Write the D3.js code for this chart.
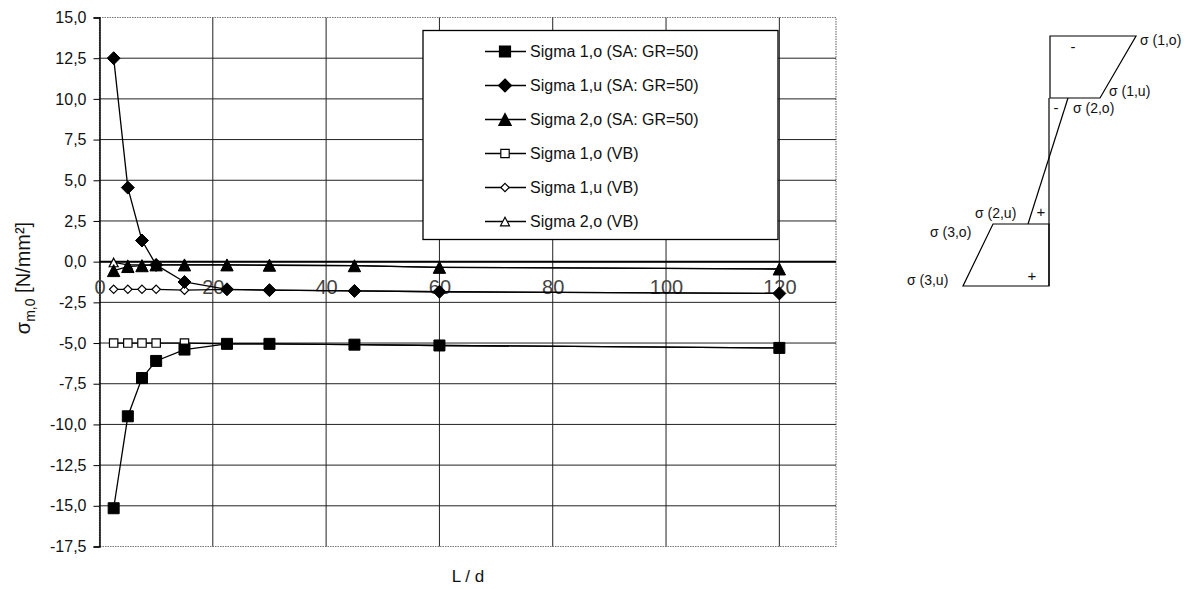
<!DOCTYPE html>
<html><head><meta charset="utf-8">
<script src="https://cdn.jsdelivr.net/npm/d3@7"></script>
<style>body{margin:0;background:#fff}svg{display:block}text{font-family:"Liberation Sans",Arial,sans-serif}</style>
</head><body><svg id="c" width="1192" height="589"></svg>
<script>
const xVals = [2.5, 5, 7.5, 10, 15, 22.5, 30, 45, 60, 120];
const sigma1oSA = [-15.15, -9.5, -7.15, -6.1, -5.4, -5.05, -5.05, -5.1, -5.15, -5.3];
const sigma1uSA = [12.5, 4.55, 1.3, -0.2, -1.25, -1.7, -1.75, -1.8, -1.85, -1.95];
const sigma2oSA = [-0.55, -0.3, -0.25, -0.2, -0.2, -0.2, -0.22, -0.25, -0.35, -0.45];
const sigma1oVB = [-5.0, -5.0, -5.0, -5.0, -5.0, -5.05, -5.05, -5.1, -5.15, -5.3];
const sigma1uVB = [-1.7, -1.7, -1.7, -1.7, -1.75, -1.7, -1.75, -1.8, -1.85, -1.95];
const sigma2oVB = [-0.05, -0.2, -0.2, -0.2, -0.2, -0.2, -0.22, -0.25, -0.35, -0.45];
const seriesNames = ["Sigma 1,o (SA: GR=50)", "Sigma 1,u (SA: GR=50)", "Sigma 2,o (SA: GR=50)",
                     "Sigma 1,o (VB)", "Sigma 1,u (VB)", "Sigma 2,o (VB)"];
const yTicks = [15, 12.5, 10, 7.5, 5, 2.5, 0, -2.5, -5, -7.5, -10, -12.5, -15, -17.5];
const xTicks = [0, 20, 40, 60, 80, 100, 120];

const series = [
  {name: seriesNames[0], vals: sigma1oSA, shape: "square", filled: true},
  {name: seriesNames[1], vals: sigma1uSA, shape: "diamond", filled: true},
  {name: seriesNames[2], vals: sigma2oSA, shape: "triangle", filled: true},
  {name: seriesNames[3], vals: sigma1oVB, shape: "square", filled: false},
  {name: seriesNames[4], vals: sigma1uVB, shape: "diamond", filled: false},
  {name: seriesNames[5], vals: sigma2oVB, shape: "triangle", filled: false}
];

const svg = d3.select("#c");
const L = 99.5, R = 836, T = 17.5, B = 546.5;
const x = d3.scaleLinear().domain([0, 130]).range([L, R]);
const y = d3.scaleLinear().domain([-17.5, 15]).range([B, T]);

function markerPath(shape, filled) {
  if (shape === "square") { const h = filled ? 5.5 : 4.2; return `M${-h},${-h}H${h}V${h}H${-h}Z`; }
  if (shape === "diamond") { const h = filled ? 6.5 : 4.2; return `M0,${-h}L${h},0L0,${h}L${-h},0Z`; }
  const w = filled ? 6.2 : 4.5, hh = filled ? 6 : 4.3;
  return `M0,${-hh}L${w},${hh}L${-w},${hh}Z`;
}

// plot border (dotted)
svg.append("rect").attr("x", L).attr("y", T).attr("width", R - L).attr("height", B - T)
  .attr("fill", "none").attr("stroke", "#777").attr("stroke-width", 1.2).attr("stroke-dasharray", "1.5,1");

// gridlines
svg.append("g").selectAll("line").data(yTicks.filter(v => v !== 15 && v !== -17.5)).join("line")
  .attr("x1", L).attr("x2", R).attr("y1", d => y(d)).attr("y2", d => y(d))
  .attr("stroke", "#222").attr("stroke-width", 1);
svg.append("g").selectAll("line").data(xTicks.filter(v => v !== 0)).join("line")
  .attr("x1", d => x(d)).attr("x2", d => x(d)).attr("y1", T).attr("y2", B)
  .attr("stroke", "#222").attr("stroke-width", 1);

// y axis
const yAxis = d3.axisLeft(y).tickValues(yTicks).tickSize(6).tickPadding(7)
  .tickFormat(d => d3.format(".1f")(d).replace(".", ",").replace("\u2212", "-"));
const gy = svg.append("g").attr("transform", `translate(${L},0)`).call(yAxis);
gy.select(".domain").attr("stroke", "#000").attr("stroke-width", 1.5);
gy.selectAll(".tick line").attr("stroke", "#000");
gy.selectAll("text").attr("font-size", 16).attr("fill", "#111");

// x axis at zero
const xAxis = d3.axisBottom(x).tickValues(xTicks).tickSize(0).tickPadding(18).tickFormat(d3.format("d"));
const gx = svg.append("g").attr("transform", `translate(0,${y(0)})`).call(xAxis);
gx.select(".domain").attr("d", `M${L},0H${R}`).attr("stroke", "#000").attr("stroke-width", 2);
gx.selectAll("text").attr("font-size", 20).attr("fill", "#444").attr("font-weight", 300);

// series (VB first so SA markers sit on top)
const line = d3.line().x((d, i) => x(xVals[i])).y(d => y(d));
const order = [3, 4, 5, 0, 1, 2];
order.forEach(k => {
  const s = series[k];
  svg.append("path").datum(s.vals).attr("d", line).attr("fill", "none")
    .attr("stroke", "#000").attr("stroke-width", 1.3);
});
order.forEach(k => {
  const s = series[k];
  svg.append("g").selectAll("path").data(s.vals).join("path")
    .attr("transform", (d, i) => `translate(${x(xVals[i])},${y(d)})`)
    .attr("d", markerPath(s.shape, s.filled))
    .attr("fill", s.filled ? "#000" : "#fff").attr("stroke", "#000").attr("stroke-width", s.filled ? 1 : 1.2);
});

// legend
const lg = svg.append("g");
lg.append("rect").attr("x", 423).attr("y", 30.5).attr("width", 355).attr("height", 209)
  .attr("fill", "#fff").attr("stroke", "#000").attr("stroke-width", 1.3);
series.forEach((s, i) => {
  const cy = 51.5 + i * 34;
  lg.append("line").attr("x1", 485).attr("x2", 526).attr("y1", cy).attr("y2", cy).attr("stroke", "#000").attr("stroke-width", 1.3);
  lg.append("path").attr("transform", `translate(505,${cy})`).attr("d", markerPath(s.shape, s.filled))
    .attr("fill", s.filled ? "#000" : "#fff").attr("stroke", "#000").attr("stroke-width", 1.2);
  lg.append("text").attr("x", 530).attr("y", cy).attr("dy", "0.36em").attr("font-size", 16).attr("fill", "#111").text(s.name);
});

// axis titles
svg.append("text").attr("x", 468).attr("y", 582).attr("text-anchor", "middle").attr("font-size", 17).attr("fill", "#111").text("L / d");
const yt = svg.append("text").attr("transform", "translate(30,278) rotate(-90)").attr("text-anchor", "middle")
  .attr("font-size", 20).attr("fill", "#111");
yt.append("tspan").text("σ");
yt.append("tspan").attr("font-size", 14).attr("dy", 5).text("m,0");
yt.append("tspan").attr("dy", -5).text(" [N/mm²]");

// cross-section diagram
const dg = svg.append("g").attr("fill", "none").attr("stroke", "#000").attr("stroke-width", 1.2);
dg.append("path").attr("d", "M1050,36H1136L1100,98H1050Z");
dg.append("path").attr("d", "M1049,98V286");
dg.append("path").attr("d", "M1068,98L1028,224");
dg.append("path").attr("d", "M993,224H1049V286H963Z");
const lab = svg.append("g").attr("font-size", 14).attr("fill", "#111");
lab.append("text").attr("x", 1140).attr("y", 45).text("σ (1,o)");
lab.append("text").attr("x", 1109).attr("y", 96).text("σ (1,u)");
lab.append("text").attr("x", 1073).attr("y", 113).text("σ (2,o)");
lab.append("text").attr("x", 975).attr("y", 218).text("σ (2,u)");
lab.append("text").attr("x", 930).attr("y", 237).text("σ (3,o)");
lab.append("text").attr("x", 907).attr("y", 285).text("σ (3,u)");
const sg = svg.append("g").attr("font-size", 15).attr("fill", "#111").attr("text-anchor", "middle");
sg.append("text").attr("x", 1073).attr("y", 52).text("-");
sg.append("text").attr("x", 1056).attr("y", 113).text("-");
sg.append("text").attr("x", 1041).attr("y", 217).text("+");
sg.append("text").attr("x", 1032).attr("y", 281).text("+");
</script></body></html>
